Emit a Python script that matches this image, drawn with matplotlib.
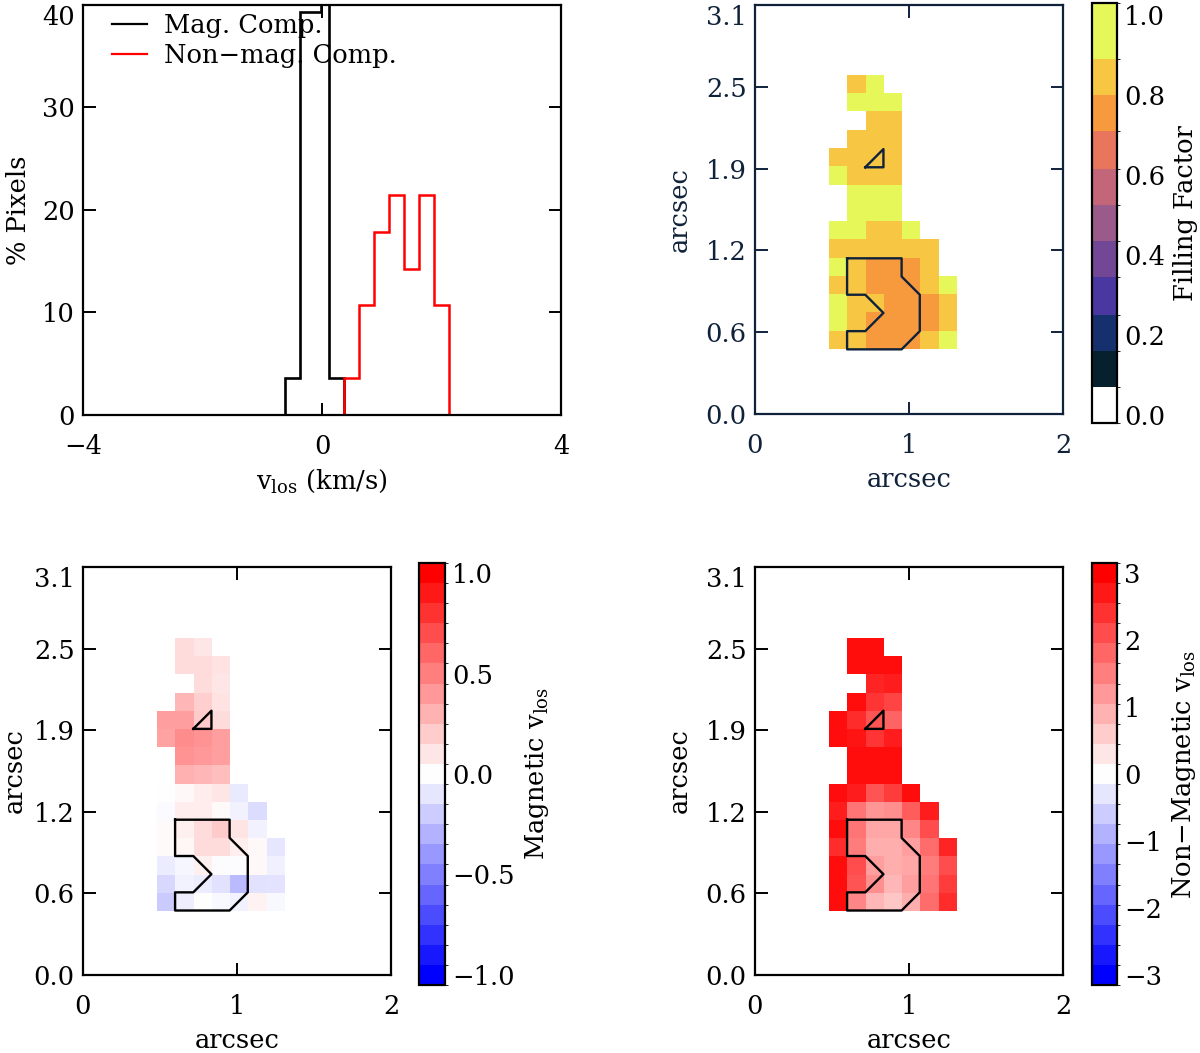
import numpy as np
import matplotlib
matplotlib.use('Agg')
import matplotlib.pyplot as plt
from matplotlib.colors import ListedColormap, BoundaryNorm, LinearSegmentedColormap, Normalize
from matplotlib.cm import ScalarMappable

plt.rcParams['font.family'] = 'DejaVu Serif'
plt.rcParams['mathtext.fontset'] = 'dejavuserif'

nan = np.nan

# histogram of v_los (% of pixels)
mag_edges = [-4, -0.625, -0.375, -0.01, 0.12, 0.375, 4]
mag_pct = [0, 3.57, 39.29, 53.57, 3.57, 0]
nonmag_edges = [-4, 0.375, 0.625, 0.875, 1.125, 1.375, 1.625, 1.875, 2.125, 4]
nonmag_pct = [0, 3.57, 10.71, 17.86, 21.43, 14.29, 21.43, 10.71, 0]

# pixel grid of the maps (arcsec)
x0, dx = 0.48, 0.118
y0, dy = 0.49, 0.138

# filling factor map, rows from top to bottom
Y, G, O = 0.95, 0.85, 0.75
fill = [
    [nan, G, Y, nan, nan, nan, nan],
    [nan, Y, Y, Y, nan, nan, nan],
    [nan, nan, G, G, nan, nan, nan],
    [nan, G, G, G, nan, nan, nan],
    [G, G, G, G, nan, nan, nan],
    [Y, G, G, G, nan, nan, nan],
    [nan, Y, Y, Y, nan, nan, nan],
    [nan, Y, Y, Y, nan, nan, nan],
    [Y, Y, G, G, Y, nan, nan],
    [G, G, G, G, G, G, nan],
    [Y, G, O, O, O, G, nan],
    [G, G, O, O, O, G, Y],
    [Y, G, G, O, O, O, G],
    [Y, G, O, O, O, O, G],
    [G, G, O, O, O, G, Y],
]

# magnetic v_los (km/s)
vmag = [
    [nan, 0.14, 0.10, nan, nan, nan, nan],
    [nan, 0.14, 0.14, 0.12, nan, nan, nan],
    [nan, nan, 0.14, 0.10, nan, nan, nan],
    [nan, 0.30, 0.20, 0.12, nan, nan, nan],
    [0.40, 0.40, 0.22, 0.14, nan, nan, nan],
    [0.38, 0.47, 0.44, 0.40, nan, nan, nan],
    [nan, 0.44, 0.42, 0.40, nan, nan, nan],
    [nan, 0.32, 0.30, 0.27, nan, nan, nan],
    [0.0, 0.03, 0.08, 0.10, -0.09, nan, nan],
    [-0.02, 0.08, 0.08, 0.02, -0.05, -0.14, nan],
    [0.02, 0.06, 0.14, 0.22, 0.11, -0.05, nan],
    [0.02, 0.04, 0.14, 0.14, 0.07, 0.03, -0.10],
    [-0.08, -0.04, 0.06, -0.01, -0.01, 0.03, -0.06],
    [-0.16, -0.05, -0.08, -0.12, -0.28, -0.12, -0.11],
    [-0.22, -0.07, 0.0, -0.03, -0.05, 0.05, -0.03],
]

# non-magnetic v_los (km/s)
vnon = [
    [nan, 3.0, 3.0, nan, nan, nan, nan],
    [nan, 3.0, 3.0, 3.0, nan, nan, nan],
    [nan, nan, 2.7, 2.8, nan, nan, nan],
    [nan, 3.0, 2.5, 2.3, nan, nan, nan],
    [3.0, 2.6, 2.1, 1.9, nan, nan, nan],
    [3.0, 2.9, 2.5, 2.8, nan, nan, nan],
    [nan, 3.0, 3.0, 3.0, nan, nan, nan],
    [nan, 3.0, 3.0, 3.0, nan, nan, nan],
    [3.0, 2.8, 2.1, 2.4, 3.0, nan, nan],
    [2.8, 1.7, 1.3, 1.4, 2.0, 2.8, nan],
    [3.0, 1.7, 1.1, 1.1, 1.5, 2.2, nan],
    [2.6, 1.6, 1.0, 1.0, 1.2, 1.8, 2.7],
    [3.0, 2.2, 1.2, 1.0, 1.1, 1.6, 2.2],
    [3.0, 2.1, 1.4, 0.9, 1.2, 1.7, 2.4],
    [3.0, 1.5, 0.9, 0.7, 1.0, 1.8, 2.6],
]

# contours in pixel-edge units
big_gx = [1, 4, 4, 5, 5, 4, 1, 1, 2, 3, 2, 1, 1]
big_gy = [5, 5, 4, 3, 1, 0, 0, 1, 1, 2, 3, 3, 5]
tri_gx = [2, 3, 3, 2]
tri_gy = [10, 11, 10, 10]

ytick_vals = np.linspace(0, 3.1, 6)
ytick_labels = ['0.0', '0.6', '1.2', '1.9', '2.5', '3.1']

# colour tables
ff_colors = ['#ffffff', '#06202e', '#16306e', '#4a38a0', '#724896', '#9a5a8a',
             '#c4667a', '#e8765c', '#f79a3e', '#f7c744', '#e6f75a']
ff_bounds = [-0.02, 0.07, 0.16, 0.25, 0.345, 0.435, 0.525, 0.615, 0.71, 0.80, 0.89, 1.03]
ff_cmap = ListedColormap(ff_colors)
ff_norm = BoundaryNorm(ff_bounds, ff_cmap.N)

bwr = LinearSegmentedColormap.from_list('bwr_idl', ['#0000ff', '#ffffff', '#ff0000'])
bwr21 = ListedColormap(bwr(np.linspace(0, 1, 21)))

FS = 18.5
W, H = 1200, 1053
fig = plt.figure(figsize=(W / 100, H / 100), dpi=100)


def rect(l, r, t, b):
    return [l / W, 1 - b / H, (r - l) / W, (b - t) / H]


def style_axes(ax, color):
    for s in ax.spines.values():
        s.set_linewidth(1.6)
        s.set_color(color)
    ax.tick_params(direction='in', length=9, width=1.4, colors=color,
                   labelsize=FS, top=True, right=True)
    ax.tick_params(axis='x', pad=14)
    ax.tick_params(axis='y', pad=6)
    # top label sits just under the frame, like the original
    ax.get_yticklabels()[-1].set_va('top')


# ---- histogram ----
ax = fig.add_axes(rect(83, 561, 5, 415))
ax.stairs(mag_pct, mag_edges, color='black', lw=1.9, label='Mag. Comp.')
ax.stairs(nonmag_pct, nonmag_edges, color='#ff0000', lw=1.8, label='Non\u2212mag. Comp.')
ax.set_xlim(-4, 4)
ax.set_ylim(0, 40)
ax.set_xticks([-4, 0, 4])
ax.set_yticks([0, 10, 20, 30, 40])
style_axes(ax, 'black')
ax.set_xlabel(r'v$_{\mathregular{los}}$ (km/s)', fontsize=FS, labelpad=6)
ax.set_ylabel('% Pixels', fontsize=FS, labelpad=8)
leg = ax.legend(loc='upper left', frameon=False, fontsize=FS, handlelength=1.35,
                borderaxespad=0.0, bbox_to_anchor=(0.04, 1.005), labelspacing=0.2,
                handletextpad=0.65)
for ln in leg.get_lines():
    ln.set_linewidth(1.6)


def draw_map(ax_rect, cax_rect, data, cmap, norm, cb_cmap, cb_norm, cb_ticks,
             cb_labels, cb_title, color, ypad=10):
    ax = fig.add_axes(rect(*ax_rect))
    extent = [x0, x0 + 7 * dx, y0, y0 + 15 * dy]
    ax.imshow(np.array(data, dtype=float), cmap=cmap, norm=norm, extent=extent,
              origin='upper', aspect='auto', interpolation='nearest')
    bx = [x0 + g * dx for g in big_gx]
    by = [y0 + g * dy for g in big_gy]
    tx = [x0 + g * dx for g in tri_gx]
    ty = [y0 + g * dy for g in tri_gy]
    ax.plot(bx, by, color=color, lw=1.7)
    ax.plot(tx, ty, color=color, lw=1.7)
    ax.set_xlim(0, 2)
    ax.set_ylim(0, 3.1)
    ax.set_xticks([0, 1, 2])
    ax.set_yticks(ytick_vals)
    ax.set_yticklabels(ytick_labels)
    style_axes(ax, color)
    ax.set_xlabel('arcsec', fontsize=FS, color=color, labelpad=6)
    ax.set_ylabel('arcsec', fontsize=FS, color=color, labelpad=ypad)

    cax = fig.add_axes(rect(*cax_rect))
    sm = ScalarMappable(norm=cb_norm, cmap=cb_cmap)
    cb = fig.colorbar(sm, cax=cax, spacing='proportional', ticks=cb_ticks)
    cb.set_ticklabels(cb_labels)
    cb.outline.set_linewidth(1.6)
    cb.outline.set_edgecolor('black')
    cax.tick_params(length=0, labelsize=FS, pad=5, colors='black')
    cax.set_ylabel(cb_title, fontsize=FS, labelpad=6)
    return ax


# filling factor
draw_map((755, 1063, 5, 414), (1092, 1117, 3, 423), fill, ff_cmap, ff_norm,
         ff_cmap, ff_norm, [0, 0.2, 0.4, 0.6, 0.8, 1.0],
         ['0.0', '0.2', '0.4', '0.6', '0.8', '1.0'], 'Filling Factor', '#10213a')

# magnetic v_los
draw_map((83, 391, 567, 975), (419, 445, 563, 985), vmag, bwr,
         Normalize(-1.05, 1.05), bwr21, BoundaryNorm(np.linspace(-1.05, 1.05, 22), 21),
         [-1, -0.5, 0, 0.5, 1], ['\u22121.0', '\u22120.5', '0.0', '0.5', '1.0'],
         'Magnetic v$_{\\mathregular{los}}$', 'black', ypad=5)

# non-magnetic v_los
draw_map((755, 1063, 567, 975), (1092, 1117, 563, 985), vnon, bwr,
         Normalize(-3.15, 3.15), bwr21, BoundaryNorm(np.linspace(-3.15, 3.15, 22), 21),
         [-3, -2, -1, 0, 1, 2, 3], ['\u22123', '\u22122', '\u22121', '0', '1', '2', '3'],
         'Non\u2212Magnetic v$_{\\mathregular{los}}$', 'black')

fig.savefig('out.png', dpi=100)
